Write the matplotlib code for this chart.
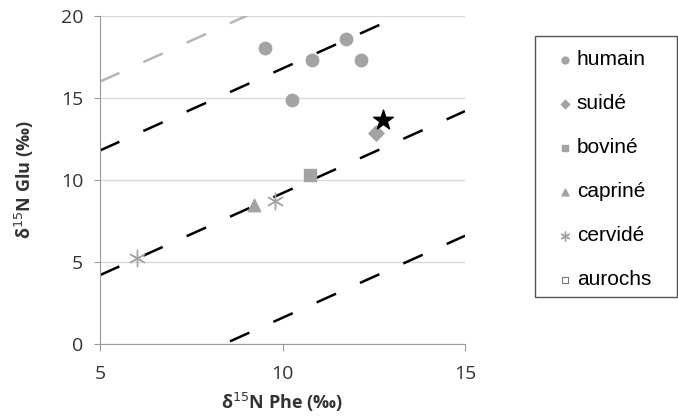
import numpy as np
import matplotlib
matplotlib.use('Agg')
import matplotlib.pyplot as plt
from matplotlib.patches import Rectangle

# data
humain_x = [9.52, 10.26, 10.81, 11.74, 12.15]
humain_y = [18.05, 14.88, 17.3, 18.6, 17.3]
suide_x = [12.56]
suide_y = [12.87]
bovine_x = [10.75]
bovine_y = [10.3]
caprine_x = [9.22]
caprine_y = [8.48]
cervide_x = [6.01, 9.8]
cervide_y = [5.24, 8.7]
aurochs_x = []
aurochs_y = []
star_x = [12.75]
star_y = [13.66]

# dashed reference lines (slope 1), intercepts
black_intercepts = [-8.4, -0.8, 6.8]
gray_intercept = 11.0

plt.rcParams['font.family'] = ['Open Sans', 'DejaVu Sans']

W, H = 678, 419
fig = plt.figure(figsize=(6.78, 4.19), dpi=100)
ax = fig.add_axes([100 / W, 75 / H, 365 / W, 328 / H])

gray = '#a3a3a3'
xs = np.array([5, 15])
for b in black_intercepts:
    ax.plot(xs, xs + b, color='black', lw=1.8, dashes=(8.5, 10.5), zorder=2)
ax.plot(xs, xs + gray_intercept, color='#b5b5b5', lw=1.8, dashes=(8.5, 10.5), zorder=2)

ax.scatter(humain_x, humain_y, s=80, marker='o', color=gray, label='humain', zorder=3)
ax.scatter(suide_x, suide_y, s=60, marker='D', color=gray, label='suidé', zorder=3)
ax.scatter(bovine_x, bovine_y, s=80, marker='s', color=gray, label='boviné', zorder=3)
ax.scatter(caprine_x, caprine_y, s=80, marker='^', color=gray, label='capriné', zorder=3)
ax.scatter(cervide_x, cervide_y, s=140, marker=(6, 2, 0), color=gray, linewidths=1.0,
           label='cervidé', zorder=3)
ax.scatter(aurochs_x, aurochs_y, s=80, marker='s', facecolor='white', edgecolor='#777777',
           linewidths=0.8, label='aurochs', zorder=3)
ax.scatter(star_x, star_y, s=220, marker='*', color='black', zorder=4)

ax.set_xlim(5, 15)
ax.set_ylim(0, 20)
ax.set_xticks([5, 10, 15])
ax.set_yticks([0, 5, 10, 15, 20])
ax.yaxis.grid(True, color='#d9d9d9', lw=1)
ax.set_axisbelow(True)
for s in ['top', 'right']:
    ax.spines[s].set_visible(False)
for s in ['left', 'bottom']:
    ax.spines[s].set_color('#999999')
ax.tick_params(colors='#999999', labelcolor='#333333', labelsize=14, length=5, direction='out')
ax.tick_params(axis='y', length=4, pad=8)
ax.tick_params(axis='x', pad=10)

ax.set_xlabel('δ$^{15}$N Phe (‰)', fontsize=13, fontweight='bold', color='#333333', labelpad=6)
ax.set_ylabel('δ$^{15}$N Glu (‰)', fontsize=13, fontweight='bold', color='#333333', labelpad=18)

# legend box drawn by hand, entries without their own frame
fig.patches.append(Rectangle((535 / W, 1 - 297 / H), 142 / W, 261 / H,
                             transform=fig.transFigure, facecolor='white',
                             edgecolor='#555555', lw=1.0, zorder=0))
leg = fig.legend(loc='upper left', bbox_to_anchor=(555 / W, 1 - 50 / H),
                 frameon=False, prop={'family': 'Liberation Sans', 'size': 15},
                 labelspacing=1.2, handletextpad=0.05, handlelength=1.0,
                 borderpad=0, borderaxespad=0, markerscale=0.55)

fig.savefig('out.png', dpi=100)
